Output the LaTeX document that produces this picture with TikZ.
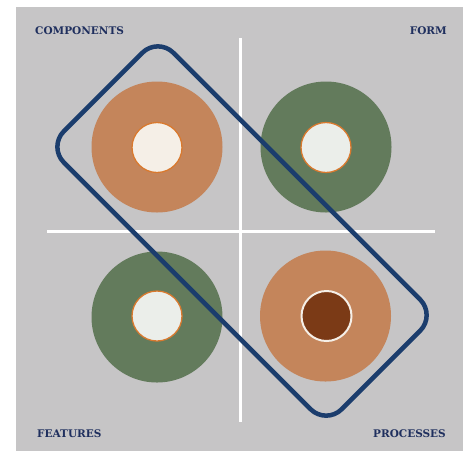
\documentclass[tikz,border=0pt]{standalone}
\usepackage{fontspec}
\newfontfamily\labelfont{DejaVu Serif}
\definecolor{bggray}{HTML}{C6C5C6}
\definecolor{ringorange}{HTML}{C4855B}
\definecolor{ringgreen}{HTML}{637B5C}
\definecolor{creamin}{HTML}{F5EFE7}
\definecolor{palein}{HTML}{EBEEEA}
\definecolor{edgeorange}{HTML}{D9792E}
\definecolor{darkbrown}{HTML}{7B3A16}
\definecolor{navyline}{HTML}{1B3D6D}
\definecolor{navytext}{HTML}{1F2F5E}
\tikzset{
  outerring/.style={circle, inner sep=0pt, minimum size=131pt},
  innerdot/.style={circle, inner sep=0pt, minimum size=50pt, line width=1.3pt},
  quadlabel/.style={inner sep=0pt, text=navytext, font=\labelfont\bfseries\fontsize{10.5}{12}\selectfont},
  divider/.style={draw=white, line width=3pt},
}
\begin{document}
\begin{tikzpicture}[x=1pt,y=-1pt]
\useasboundingbox (0,0) rectangle (470,451);
\fill[white] (0,0) rectangle (470,451);
\fill[bggray] (16,7) rectangle (463,451);
% dividers
\coordinate (vtop) at (240,38);
\coordinate (vbot) at (240,422);
\coordinate (hleft) at (47,231);
\coordinate (hright) at (435,231);
\draw[divider] (vtop) -- (vbot);
\draw[divider] (hleft) -- (hright);
% circles
\node[outerring, fill=ringorange] (tl) at (157,147) {};
\node[innerdot, fill=creamin, draw=edgeorange] (tlin) at (157,147.5) {};
\node[outerring, fill=ringgreen] (tr) at (326,147) {};
\node[innerdot, fill=palein, draw=edgeorange] (trin) at (326,147.5) {};
\node[outerring, fill=ringgreen] (bl) at (157,317) {};
\node[innerdot, fill=palein, draw=edgeorange] (blin) at (157,316) {};
\node[outerring, fill=ringorange] (br) at (325.5,316) {};
\node[innerdot, fill=darkbrown, draw=creamin, line width=2pt] (brin) at (326.5,316) {};
% rounded frame
\node[draw=navyline, line width=4.5pt, rounded corners=22pt, minimum width=393pt, minimum height=155pt, inner sep=0pt, rotate=-45] (frame) at (242,231) {};
% labels
\node[quadlabel, anchor=base west] (comp) at (35,34) {COMPONENTS};
\node[quadlabel, anchor=base east] (form) at (447,34) {FORM};
\node[quadlabel, anchor=base west] (feat) at (37,437) {FEATURES};
\node[quadlabel, anchor=base east] (proc) at (446,437) {PROCESSES};
\end{tikzpicture}
\end{document}
